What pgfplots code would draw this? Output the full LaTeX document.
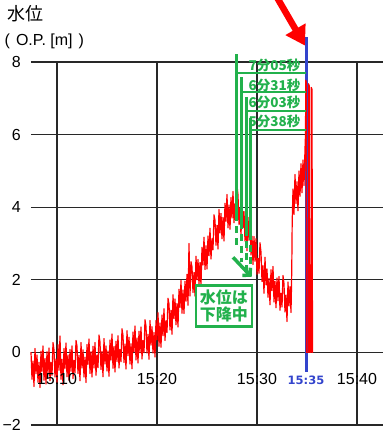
\documentclass[border=0pt]{standalone}
\usepackage{fontspec}
\setmainfont{Liberation Sans}
\newfontfamily\cjk{Noto Sans CJK JP}
\newfontfamily\djv{DejaVu Sans}
\usepackage{pgfplots}
\pgfplotsset{compat=1.18}
\usetikzlibrary{arrows.meta}
\definecolor{rgreen}{RGB}{34,177,76}
\definecolor{rblue}{RGB}{51,68,204}
\definecolor{gridc}{RGB}{40,40,40}
\begin{document}
\begin{tikzpicture}
\begin{axis}[
  scale only axis, width=352pt, height=363pt,
  xmin=7.4, xmax=42.6, ymin=-2, ymax=8,
  clip=false,
  axis line style={draw=none},
  major tick length=0pt,
  xtick={10,20,30,40}, xticklabels={},
  ytick={-2,0,2,4,6,8},
  yticklabels={−2,0,2,4,6,8},
  yticklabel style={font=\fontsize{16}{16}\selectfont, anchor=east, inner sep=0pt, xshift=-10pt},
  grid=major,
  grid style={gridc, line width=1.3pt},
]
\coordinate (SW) at (rel axis cs:0,0);
\coordinate (NE) at (rel axis cs:1,1);
% blue marker line at 15:35
\addplot[rblue, line width=3pt] coordinates {(35,8.68) (35,-0.55)};
% water level
\addplot[red, line width=1.2pt, line join=round] table {
7.4 0.01
7.5 -0.74
7.6 -0.24
7.7 -0.94
7.8 0.11
7.9 -0.59
8.0 -0.07
8.1 -0.82
8.2 -0.27
8.3 -0.97
8.4 0.03
8.5 -0.52
8.6 0.18
8.7 -0.77
8.8 -0.17
8.9 -0.87
9.0 0.02
9.1 -0.58
9.2 0.12
9.3 -0.78
9.4 -0.28
9.5 -0.63
9.6 0.27
9.7 0.07
9.8 -0.68
9.9 -0.18
10.0 -0.84
10.1 0.21
10.2 -0.49
10.3 0.45
10.4 -0.74
10.5 -0.19
10.6 -0.89
10.7 0.11
10.8 -0.44
10.9 0.26
11.0 -0.67
11.1 -0.07
11.2 -0.77
11.3 0.08
11.4 -0.52
11.5 0.18
11.6 -0.72
11.7 -0.22
11.8 -0.57
11.9 0.33
12.0 0.17
12.1 -0.58
12.2 -0.08
12.3 -0.78
12.4 0.27
12.5 -0.43
12.6 0.07
12.7 -0.68
12.8 -0.13
12.9 -0.83
13.0 0.22
13.1 -0.33
13.2 0.37
13.3 -0.58
13.4 0.02
13.5 -0.68
13.6 0.17
13.7 -0.43
13.8 0.27
13.9 -0.63
14.0 -0.07
14.1 -0.42
14.2 0.48
14.3 0.28
14.4 -0.47
14.5 0.03
14.6 -0.67
14.7 0.38
14.8 -0.32
14.9 0.18
15.0 -0.51
15.1 0.04
15.2 -0.66
15.3 0.34
15.4 -0.21
15.5 0.51
15.6 -0.44
15.7 0.16
15.8 -0.54
15.9 0.31
16.0 -0.25
16.1 0.46
16.2 -0.43
16.3 0.08
16.4 -0.26
16.5 0.65
16.6 0.46
16.7 -0.28
16.8 0.23
16.9 -0.46
17.0 0.60
17.1 -0.09
17.2 0.42
17.3 -0.32
17.4 0.24
17.5 -0.45
17.6 0.56
17.7 0.02
17.8 0.73
17.9 -0.21
18.0 0.40
18.1 -0.29
18.2 0.58
18.3 -0.01
18.4 0.70
18.5 -0.18
18.6 0.33
18.7 -0.01
18.8 0.90
18.9 0.72
19.0 -0.02
19.1 0.50
19.2 -0.19
19.3 0.88
19.4 0.20
19.5 0.71
19.6 -0.02
19.7 0.55
19.8 -0.13
19.9 0.88
20.0 0.35
20.1 1.09
20.2 0.17
20.3 0.81
20.4 0.14
20.5 1.03
20.6 0.46
20.7 1.20
20.8 0.33
20.9 0.87
21.0 0.55
21.1 1.49
21.2 1.33
21.3 0.62
21.4 1.16
21.5 0.50
21.6 1.59
21.7 0.93
21.8 1.47
21.9 0.76
22.0 1.35
22.1 0.70
22.2 1.74
22.3 1.24
22.4 1.98
22.5 1.08
22.6 1.72
22.7 1.07
22.8 1.96
22.9 1.41
23.0 2.15
23.1 1.30
23.2 3.00
23.3 1.55
23.4 2.50
23.5 2.35
23.6 1.65
23.7 2.20
23.8 1.55
23.9 2.65
24.0 2.00
24.1 2.56
24.2 1.87
24.3 2.48
24.4 1.84
24.5 2.90
24.6 2.41
24.7 3.17
24.8 2.28
24.9 2.94
25.0 2.30
25.1 3.21
25.2 2.66
25.3 3.42
25.4 2.57
25.5 3.13
25.6 2.83
25.7 3.79
25.8 3.64
25.9 2.95
26.0 3.50
26.1 2.85
26.2 3.94
26.3 3.29
26.4 3.83
26.5 3.13
26.6 3.72
26.7 3.07
26.8 4.11
26.9 3.61
27.0 4.35
27.1 3.43
27.2 4.06
27.3 3.39
27.4 4.27
27.5 3.70
27.6 4.43
27.7 3.57
27.8 4.10
27.9 3.73
28.0 4.60
28.1 4.34
28.2 3.53
28.3 3.97
28.4 3.21
28.5 4.20
28.6 3.44
28.7 3.88
28.8 3.07
28.9 3.56
29.0 2.80
29.1 3.72
29.2 3.09
29.3 3.71
29.4 2.68
29.5 3.20
29.6 2.42
29.7 3.19
29.8 2.51
29.9 3.13
30.0 2.15
30.1 2.59
30.2 2.18
30.3 3.02
30.4 2.76
30.5 1.95
30.6 2.39
30.7 1.63
30.8 2.62
30.9 1.86
31.0 2.30
31.1 1.52
31.2 2.04
31.3 1.31
31.4 2.28
31.5 1.70
31.6 2.37
31.7 1.39
31.8 1.96
31.9 1.23
32.0 2.05
32.1 1.42
32.2 2.09
32.3 1.16
32.4 1.63
32.5 1.25
32.6 2.12
32.7 1.89
32.8 1.11
32.9 1.58
33.0 0.85
33.1 1.94
33.2 1.28
33.3 1.81
33.4 1.10
33.45 1.80
33.48 2.40
33.52 3.60
33.6 4.50
33.7 3.80
33.8 4.90
33.9 4.10
34.0 4.70
34.1 3.90
34.2 5.00
34.3 4.30
34.4 5.20
34.5 4.40
34.6 5.30
34.7 4.60
34.8 5.60
34.85 6.00
34.88 7.50
34.92 7.45
34.95 0
35.12 0
35.15 7.40
35.22 7.35
35.25 0
35.40 0
35.42 7.30
35.50 7.25
35.55 0
35.60 0
};
% green elapsed-time markers
\addplot[rgreen, line width=2.7pt] coordinates {(27.917,8.21) (27.917,3.8)};
\addplot[rgreen, line width=2.7pt] coordinates {(28.483,7.58) (28.483,3.6)};
\addplot[rgreen, line width=2.7pt] coordinates {(28.95,7.04) (28.95,3.4)};
\addplot[rgreen, line width=2.7pt] coordinates {(29.367,6.47) (29.367,3.3)};
\addplot[rgreen, line width=2.7pt, dash pattern=on 7pt off 5pt] coordinates {(27.917,3.8) (27.917,2.9)};
\addplot[rgreen, line width=2.7pt, dash pattern=on 7pt off 5pt] coordinates {(28.483,3.6) (28.483,2.5)};
\addplot[rgreen, line width=2.7pt, dash pattern=on 7pt off 5pt] coordinates {(28.95,3.4) (28.95,2.2)};
\addplot[rgreen, line width=2.7pt, dash pattern=on 7pt off 5pt] coordinates {(29.367,3.3) (29.367,2.0)};
\addplot[rgreen, line width=2pt] coordinates {(27.917,7.70) (34.9,7.70)};
\addplot[rgreen, line width=2pt] coordinates {(28.483,7.17) (34.9,7.17)};
\addplot[rgreen, line width=2pt] coordinates {(28.95,6.64) (34.9,6.64)};
\addplot[rgreen, line width=2pt] coordinates {(29.367,6.14) (34.9,6.14)};
\node[anchor=east, inner sep=0pt, text=rgreen, font=\cjk\bfseries\fontsize{13.5}{14}\selectfont] at (axis cs:34.35,7.90) {7分05秒};
\node[anchor=east, inner sep=0pt, text=rgreen, font=\cjk\bfseries\fontsize{13.5}{14}\selectfont] at (axis cs:34.35,7.36) {6分31秒};
\node[anchor=east, inner sep=0pt, text=rgreen, font=\cjk\bfseries\fontsize{13.5}{14}\selectfont] at (axis cs:34.35,6.89) {6分03秒};
\node[anchor=east, inner sep=0pt, text=rgreen, font=\cjk\bfseries\fontsize{13.5}{14}\selectfont] at (axis cs:34.35,6.36) {5分38秒};
\draw[rgreen, line width=3.5pt, -{Straight Barb[length=5pt,width=11pt]}] (axis cs:27.6,2.62) -- (axis cs:29.45,2.08);
\node[draw=rgreen, line width=2.5pt, fill=white, text=rgreen, align=center, inner sep=1pt,
      minimum width=56pt, minimum height=41pt,
      font=\cjk\bfseries\fontsize{16}{17}\selectfont] at (axis cs:26.7,1.28) {水位は\\下降中};
% red arrow
\draw[red, line width=6.5pt, -{Triangle[length=19pt,width=22pt]}] (axis cs:31.85,9.85) -- (axis cs:34.8,8.45);
% x labels
\node[font=\fontsize{16}{16}\selectfont, inner sep=0pt] at (axis cs:10,-0.74) {15:10};
\node[font=\fontsize{16}{16}\selectfont, inner sep=0pt] at (axis cs:20,-0.74) {15:20};
\node[font=\fontsize{16}{16}\selectfont, inner sep=0pt] at (axis cs:30,-0.74) {15:30};
\node[font=\fontsize{16}{16}\selectfont, inner sep=0pt] at (axis cs:40,-0.74) {15:40};
\node[font=\djv\bfseries\fontsize{11.5}{12}\selectfont, text=rblue, inner sep=0pt] at (axis cs:34.9,-0.76) {15:35};
% titles
\node[anchor=west, inner sep=0pt, font=\cjk\fontsize{18}{18}\selectfont] at (axis cs:5.0,9.34) {水位};
\node[anchor=west, inner sep=0pt, font=\fontsize{16}{16}\selectfont] at (axis cs:4.75,8.57) {(\hspace{6pt}O.P.~[m]\hspace{6pt})};
\end{axis}
\pgfresetboundingbox
\path ([xshift=-31pt,yshift=-13pt]SW) rectangle ([xshift=7pt,yshift=62pt]NE);
\end{tikzpicture}
\end{document}
